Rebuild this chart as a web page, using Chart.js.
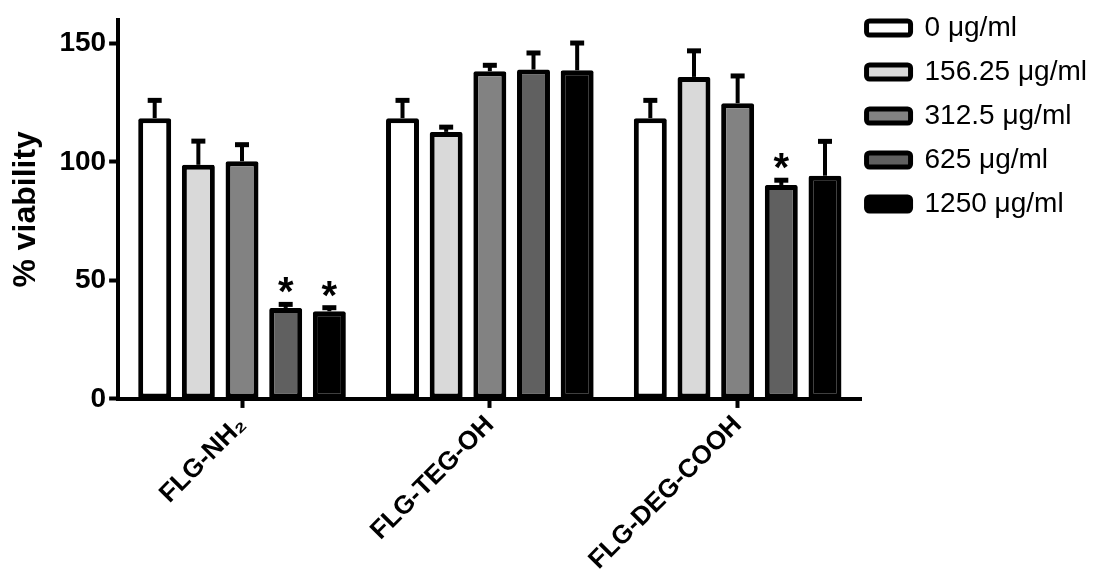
<!DOCTYPE html>
<html>
<head>
<meta charset="utf-8">
<script src="https://cdn.jsdelivr.net/npm/chart.js@4.4.0/dist/chart.umd.min.js"></script>
<style>
  html, body { margin: 0; padding: 0; background: #fff; overflow: hidden; }
  #wrap { width: 1107px; height: 586px; }
</style>
</head>
<body>
<div id="wrap"><canvas id="viabilityChart"></canvas></div>
<script>
// Groups on the x axis and doses in the legend
const groups = ['FLG-NH₂', 'FLG-TEG-OH', 'FLG-DEG-COOH'];
const doseLabels = ['0 μg/ml', '156.25 μg/ml', '312.5 μg/ml', '625 μg/ml', '1250 μg/ml'];
const yTicks = [0, 50, 100, 150];

// % viability (mean) per dose, one value per group
const dose0 = [118.5, 118.5, 118.5];
const dose156 = [98.8, 112.7, 135.9];
const dose312 = [100.3, 138.3, 124.8];
const dose625 = [38.4, 139, 90.3];
const dose1250 = [37, 138.7, 94.2];

// upper error (SD) per dose
const err0 = [7.5, 7.5, 7.5];
const err156 = [10, 2, 11];
const err312 = [7, 2.5, 11.5];
const err625 = [1.5, 7, 2];
const err1250 = [1.5, 11.5, 14.5];

// significance stars
const star0 = [false, false, false];
const star156 = [false, false, false];
const star312 = [false, false, false];
const star625 = [true, false, true];
const star1250 = [true, false, false];

const FONT = '"Liberation Sans", Arial, Helvetica, sans-serif';

function makeSet(i, data, errors, stars, fill) {
    return {
        label: doseLabels[i],
        data: data,
        errors: errors,
        stars: stars,
        backgroundColor: fill,
        borderColor: '#000',
        borderWidth: 5,
        borderSkipped: false,
        borderRadius: 2,
        categoryPercentage: 0.881,
        barPercentage: 0.755
    };
}

// error bars + stars, placed through the y scale
const errorBarPlugin = {
    id: 'errorBars',
    afterDatasetsDraw(chart) {
        const ctx = chart.ctx;
        const yScale = chart.scales.y;
        chart.data.datasets.forEach((ds, i) => {
            const meta = chart.getDatasetMeta(i);
            meta.data.forEach((bar, j) => {
                const top = yScale.getPixelForValue(ds.data[j] + ds.errors[j]);
                ctx.save();
                ctx.strokeStyle = '#000';
                ctx.lineWidth = 4;
                ctx.beginPath();
                ctx.moveTo(bar.x, bar.y);
                ctx.lineTo(bar.x, top);
                ctx.stroke();
                ctx.lineWidth = 5;
                ctx.beginPath();
                ctx.moveTo(bar.x - 7, top);
                ctx.lineTo(bar.x + 7, top);
                ctx.stroke();
                if (ds.stars[j]) {
                    ctx.fillStyle = '#000';
                    ctx.font = 'bold 40px ' + FONT;
                    ctx.textAlign = 'center';
                    ctx.textBaseline = 'alphabetic';
                    ctx.fillText('*', bar.x, top + 1);
                }
                ctx.restore();
            });
        });
    }
};

const ctx = document.getElementById('viabilityChart').getContext('2d');
const viabilityChart = new Chart(ctx, {
    type: 'bar',
    data: {
        labels: groups,
        datasets: [
            makeSet(0, dose0, err0, star0, '#ffffff'),
            makeSet(1, dose156, err156, star156, '#d9d9d9'),
            makeSet(2, dose312, err312, star312, '#828282'),
            makeSet(3, dose625, err625, star625, '#606060'),
            makeSet(4, dose1250, err1250, star1250, '#000000')
        ]
    },
    options: {
        responsive: true,
        maintainAspectRatio: false,
        animation: false,
        layout: { padding: { left: 6, top: 9, right: 10, bottom: 8 } },
        plugins: {
            tooltip: { enabled: false },
            legend: {
                position: 'right',
                align: 'start',
                labels: {
                    color: '#000',
                    font: { family: FONT, size: 28, lineHeight: '39px' },
                    boxWidth: 44,
                    boxHeight: 14,
                    padding: 5,
                    useBorderRadius: true,
                    borderRadius: 3,
                    generateLabels(chart) {
                        const items = Chart.defaults.plugins.legend.labels.generateLabels(chart);
                        items.forEach(it => { it.text = [it.text]; });
                        return items;
                    }
                }
            }
        },
        scales: {
            x: {
                grid: { drawOnChartArea: false, tickLength: 9, tickWidth: 4, tickColor: '#000', offset: false },
                border: { color: '#000', width: 4 },
                ticks: {
                    color: '#000',
                    font: { family: FONT, size: 26, weight: 'bold' },
                    maxRotation: 45,
                    minRotation: 45,
                    autoSkip: false,
                    padding: 2
                }
            },
            y: {
                min: 0,
                max: 160,
                afterBuildTicks(scale) {
                    scale.ticks = yTicks.map(v => ({ value: v }));
                },
                grid: { drawOnChartArea: false, tickLength: 9, tickWidth: 4, tickColor: '#000' },
                border: { color: '#000', width: 4 },
                ticks: {
                    color: '#000',
                    font: { family: FONT, size: 28, weight: 'bold' },
                    padding: 3
                },
                title: {
                    display: true,
                    text: '% viability',
                    color: '#000',
                    font: { family: FONT, size: 32, weight: 'bold' },
                    padding: { top: 1, bottom: 11 }
                }
            }
        }
    },
    plugins: [errorBarPlugin]
});
</script>
</body>
</html>
